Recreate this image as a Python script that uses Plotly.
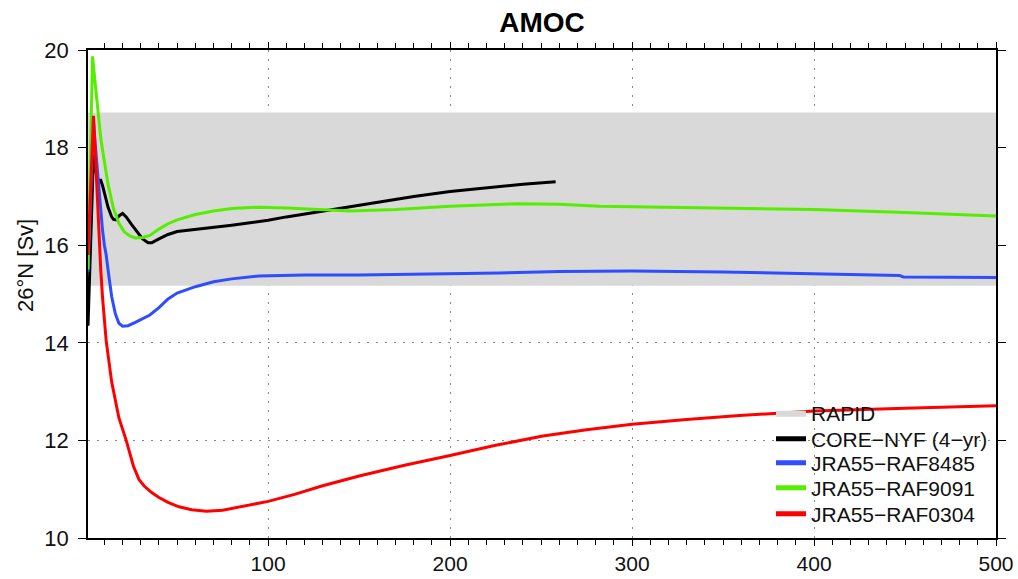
import plotly.graph_objects as go

# ---------------- data ----------------
rapid_years = [1, 500]
rapid_low = 15.17
rapid_high = 18.72

core_years = [1, 2, 3, 4, 5, 6, 7, 8, 9, 10, 12, 14, 15, 16.5, 18, 20, 22, 25, 28, 31, 34, 36, 40, 45, 50,
              60, 70, 80, 90, 100, 110, 120, 130, 140, 150, 163, 180, 200, 220, 240, 258]
core_vals = [14.35, 15.6, 16.8, 17.85, 17.6, 17.36, 17.33, 17.33, 17.22, 17.05, 16.78, 16.58, 16.53, 16.52,
             16.6, 16.65, 16.58, 16.42, 16.27, 16.13, 16.05, 16.05, 16.13, 16.22, 16.28,
             16.32, 16.36, 16.41, 16.46, 16.51, 16.58, 16.64, 16.71, 16.77, 16.83, 16.91, 17.0, 17.1,
             17.18, 17.25, 17.3]

raf8485_years = [1, 2, 3, 4, 5, 6, 7, 8, 9, 10, 11, 12, 14, 16, 18, 20, 23, 27, 31, 35, 40, 45, 50,
                 60, 70, 80, 95, 120, 150, 200, 227, 260, 300, 350, 400, 447, 449, 470, 500]
raf8485_vals = [15.45, 16.6, 17.8, 18.55, 18.05, 17.6, 17.1, 16.7, 16.3, 16.0, 15.8, 15.5, 14.95, 14.6,
                14.4, 14.34, 14.35, 14.42, 14.5, 14.57, 14.72, 14.9, 15.02,
                15.15, 15.25, 15.31, 15.37, 15.39, 15.39, 15.41, 15.43, 15.46, 15.47, 15.45, 15.42,
                15.38, 15.35, 15.35, 15.34]

raf9091_years = [1, 2, 3.5, 5, 6, 7, 8, 9, 10, 12, 15, 18, 21, 24, 27, 31, 35, 40, 45, 50, 60, 70, 80,
                 95, 110, 128, 145, 170, 200, 237, 260, 282, 300, 350, 400, 450, 500]
raf9091_vals = [15.5, 17.5, 19.87, 19.3, 18.9, 18.55, 18.2, 17.95, 17.7, 17.25, 16.75, 16.45, 16.27,
                16.19, 16.15, 16.16, 16.2, 16.33, 16.44, 16.52, 16.63, 16.7, 16.75,
                16.78, 16.76, 16.73, 16.7, 16.73, 16.8, 16.85, 16.84, 16.8, 16.79, 16.76, 16.73, 16.67, 16.6]

raf0304_years = [1, 2, 3, 4, 5, 6, 7, 8, 9, 11, 14, 18, 22, 26, 29, 32, 36, 40, 45, 51, 58, 66, 75,
                 85, 100, 115, 129, 150, 175, 200, 225, 251, 275, 300, 330, 359, 400, 450, 500]
raf0304_vals = [15.8, 16.8, 17.9, 18.65, 17.9, 17.0, 16.2, 15.5, 14.92, 14.04, 13.2, 12.46, 12.0,
                11.47, 11.2, 11.06, 10.93, 10.83, 10.73, 10.64, 10.58, 10.55, 10.57,
                10.64, 10.75, 10.9, 11.06, 11.27, 11.49, 11.69, 11.9, 12.09, 12.22, 12.33, 12.43,
                12.51, 12.6, 12.66, 12.71]

series_names = ["RAPID", "CORE\u2212NYF (4\u2212yr)", "JRA55\u2212RAF8485",
                "JRA55\u2212RAF9091", "JRA55\u2212RAF0304"]

FONT = "Liberation Sans, Arial, sans-serif"

fig = go.Figure()

# RAPID band
fig.add_trace(go.Scatter(
    x=[rapid_years[0], rapid_years[1], rapid_years[1], rapid_years[0], rapid_years[0]],
    y=[rapid_low, rapid_low, rapid_high, rapid_high, rapid_low],
    fill="toself", fillcolor="#d9d9d9", mode="lines", line=dict(width=0, color="#d9d9d9"),
    name=series_names[0], hoverinfo="skip", legend="legend"))

fig.add_trace(go.Scatter(x=core_years, y=core_vals, mode="lines",
                         line=dict(color="#000000", width=3), name=series_names[1], legend="legend2"))
fig.add_trace(go.Scatter(x=raf8485_years, y=raf8485_vals, mode="lines",
                         line=dict(color="#2f4dff", width=3), name=series_names[2], legend="legend3"))
fig.add_trace(go.Scatter(x=raf9091_years, y=raf9091_vals, mode="lines",
                         line=dict(color="#55ee00", width=3), name=series_names[3], legend="legend4"))
fig.add_trace(go.Scatter(x=raf0304_years, y=raf0304_vals, mode="lines",
                         line=dict(color="#ff0000", width=3), name=series_names[4], legend="legend5"))

# plot area in pixels
L, R, T, B = 88, 22, 50, 41
W, H = 1018, 579
pw, ph = W - L - R, H - T - B


def py(ypix):
    return (H - B - ypix) / ph


def px(xpix):
    return (xpix - L) / pw


legend_rows = [413, 439, 463, 488, 514]
leg_common = dict(xanchor="left", yanchor="middle", bgcolor="rgba(0,0,0,0)", borderwidth=0,
                  font=dict(family=FONT, size=21, color="#111111"), itemsizing="constant")
legends = {}
for i, yr in enumerate(legend_rows):
    key = "legend" if i == 0 else f"legend{i + 1}"
    legends[key] = dict(x=px(771), y=py(yr), **leg_common)

fig.update_layout(
    width=W, height=579,
    margin=dict(l=L, r=R, t=T, b=B, autoexpand=False),
    paper_bgcolor="white", plot_bgcolor="white",
    font=dict(family=FONT, size=21, color="#111111"),
    title=dict(text="<b>AMOC</b>", xref="container", x=542 / W, xanchor="center",
               y=1 - 22 / H, yanchor="middle",
               font=dict(family=FONT, size=28, color="#000000")),
    showlegend=True,
    **legends,
)

fig.add_annotation(text="26\u00b0N [Sv]", xref="paper", yref="paper", x=px(25), y=py(266),
                   textangle=-90, showarrow=False, xanchor="center", yanchor="middle",
                   font=dict(family=FONT, size=22, color="#111111"))

fig.update_xaxes(
    range=[1, 500], tickmode="linear", tick0=0, dtick=100,
    showline=True, linecolor="#000000", linewidth=1.5, mirror="ticks",
    ticks="outside", ticklen=6, tickcolor="#000000", tickwidth=1,
    minor=dict(tickmode="linear", tick0=0, dtick=10, ticks="outside", ticklen=5,
               tickcolor="#000000", tickwidth=1, showgrid=False),
    showgrid=True, gridcolor="#888888", griddash="2px,7px", gridwidth=1,
    zeroline=False, tickfont=dict(size=21), automargin=False, ticklabelstandoff=0,
)
fig.update_yaxes(
    range=[10, 20], tickmode="linear", tick0=10, dtick=2,
    showline=True, linecolor="#000000", linewidth=1.5, mirror="ticks",
    ticks="outside", ticklen=8, tickcolor="#000000", tickwidth=1,
    showgrid=True, gridcolor="#888888", griddash="2px,7px", gridwidth=1,
    zeroline=False, tickfont=dict(size=22), automargin=False, ticklabelstandoff=5,
)

fig.write_html("out.html")
